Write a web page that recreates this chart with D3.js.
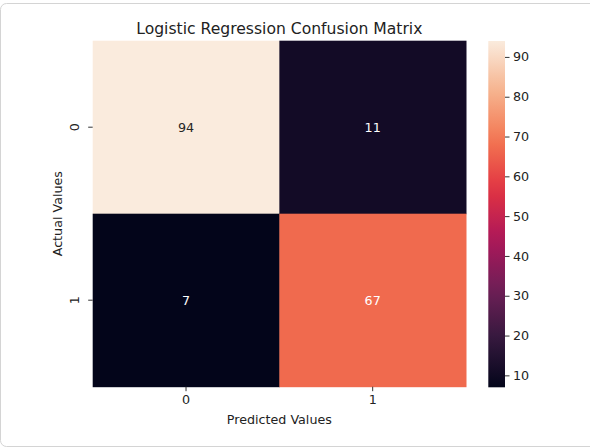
<!DOCTYPE html>
<html>
<head>
<meta charset="utf-8">
<script src="https://cdn.jsdelivr.net/npm/d3@7.9.0/dist/d3.min.js"></script>
<style>
  body { margin: 0; background: #fff; }
  svg text { font-family: "DejaVu Sans", sans-serif; fill: #222; }
</style>
</head>
<body>
<svg id="chart" width="590" height="448"></svg>
<script>
// data
const predictedLabels = ['0', '1'];
const actualLabels = ['0', '1'];
const row0 = [94, 11];
const row1 = [7, 67];
const colorbarTicks = [10, 20, 30, 40, 50, 60, 70, 80, 90];

// rocket colormap stops (seaborn)
const rocketStops = ['#03051a', '#35193e', '#701f57', '#ad1759', '#e13342', '#f37651', '#f6b48f', '#faebdd'];

const counts = [row0, row1];
const cells = [];
counts.forEach((row, i) => {
  row.forEach((v, j) => {
    cells.push({ actual: actualLabels[i], predicted: predictedLabels[j], value: v });
  });
});

const svg = d3.select('#chart');

// notebook frame
svg.append('rect')
  .attr('x', 0.5).attr('y', 3.5)
  .attr('width', 640).attr('height', 443)
  .attr('rx', 6)
  .attr('fill', 'none')
  .attr('stroke', '#d4d4d4');

const plotLeft = 92.7, plotTop = 40.7, plotW = 373.3, plotH = 346;

let x = d3.scaleBand().domain(predictedLabels).range([plotLeft, plotLeft + plotW]);
let y = d3.scaleBand().domain(actualLabels).range([plotTop, plotTop + plotH]);

let vmin = d3.min(cells, d => d.value), vmax = d3.max(cells, d => d.value);
let color = d3.scaleSequential(d3.piecewise(d3.interpolateRgb, rocketStops)).domain([vmin, vmax]);

svg.append('g')
  .selectAll('rect')
  .data(cells)
  .join('rect')
  .attr('x', d => x(d.predicted))
  .attr('y', d => y(d.actual))
  .attr('width', x.bandwidth() + 0.5)
  .attr('height', y.bandwidth() + 0.5)
  .attr('fill', d => color(d.value));

// annotations, dark text on light cells like seaborn does
function lum(c) {
  let rgb = d3.rgb(c);
  let f = v => { v /= 255; return v <= 0.03928 ? v / 12.92 : Math.pow((v + 0.055) / 1.055, 2.4); };
  return 0.2126 * f(rgb.r) + 0.7152 * f(rgb.g) + 0.0722 * f(rgb.b);
}
svg.append('g')
  .selectAll('text')
  .data(cells)
  .join('text')
  .attr('x', d => x(d.predicted) + x.bandwidth() / 2)
  .attr('y', d => y(d.actual) + y.bandwidth() / 2)
  .attr('text-anchor', 'middle')
  .attr('dominant-baseline', 'central')
  .style('font-size', '12.7px')
  .style('fill', d => lum(color(d.value)) > 0.408 ? '#262626' : '#ffffff')
  .text(d => d.value);

// x axis
let xAxis = svg.append('g')
  .attr('transform', `translate(0,${plotTop + plotH})`)
  .call(d3.axisBottom(x).tickSize(4.5).tickPadding(4));
xAxis.select('.domain').remove();
xAxis.selectAll('line').attr('stroke', '#333').attr('stroke-width', 1);
xAxis.selectAll('text').style('font-size', '12.7px').attr('fill', null);

// y axis, labels rotated
let yAxis = svg.append('g')
  .attr('transform', `translate(${plotLeft},0)`)
  .call(d3.axisLeft(y).tickSize(4.5).tickPadding(4));
yAxis.select('.domain').remove();
yAxis.selectAll('line').attr('stroke', '#333').attr('stroke-width', 1);
yAxis.selectAll('text')
  .style('font-size', '12.7px')
  .attr('fill', null)
  .attr('x', null).attr('dy', null)
  .attr('text-anchor', 'middle')
  .attr('dominant-baseline', 'central')
  .attr('transform', 'translate(-18,0) rotate(-90)');

// axis titles
svg.append('text')
  .attr('x', plotLeft + plotW / 2).attr('y', 424)
  .attr('text-anchor', 'middle')
  .style('font-size', '12.7px')
  .text('Predicted Values');

svg.append('text')
  .attr('transform', `translate(62,${plotTop + plotH / 2}) rotate(-90)`)
  .attr('text-anchor', 'middle')
  .style('font-size', '12.7px')
  .text('Actual Values');

svg.append('text')
  .attr('x', plotLeft + plotW / 2).attr('y', 33.5)
  .attr('text-anchor', 'middle')
  .style('font-size', '15.6px')
  .text('Logistic Regression Confusion Matrix');

// colorbar
const cbX = 488.3, cbW = 16.7, cbTop = 41, cbBottom = 387.3;
let cbScale = d3.scaleLinear().domain([vmin, vmax]).range([cbBottom, cbTop]);

let defs = svg.append('defs');
let grad = defs.append('linearGradient')
  .attr('id', 'cbgrad')
  .attr('x1', 0).attr('y1', 1).attr('x2', 0).attr('y2', 0);
d3.range(0, 1.0001, 0.05).forEach(t => {
  grad.append('stop')
    .attr('offset', t)
    .attr('stop-color', color(vmin + t * (vmax - vmin)));
});

svg.append('rect')
  .attr('x', cbX).attr('y', cbTop)
  .attr('width', cbW).attr('height', cbBottom - cbTop)
  .attr('fill', 'url(#cbgrad)');

let cbAxis = svg.append('g')
  .attr('transform', `translate(${cbX + cbW},0)`)
  .call(d3.axisRight(cbScale).tickValues(colorbarTicks).tickSize(4.5).tickPadding(3.5));
cbAxis.select('.domain').remove();
cbAxis.selectAll('line').attr('stroke', '#333').attr('stroke-width', 1);
cbAxis.selectAll('text').style('font-size', '12.7px').attr('fill', null);
</script>
</body>
</html>
